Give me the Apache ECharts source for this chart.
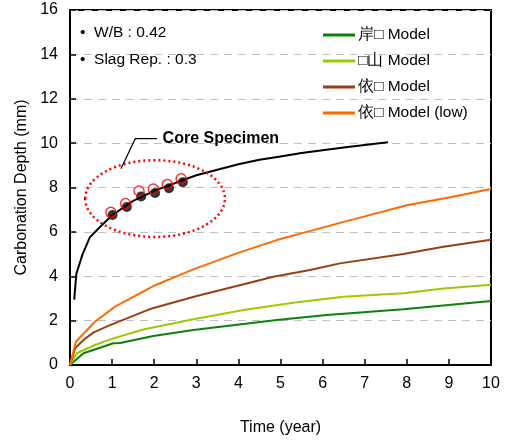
<!DOCTYPE html>
<html>
<head>
<meta charset="utf-8">
<script src="https://cdn.jsdelivr.net/npm/echarts@6/dist/echarts.min.js"></script>
<style>
  html, body { margin: 0; padding: 0; background: #fff; }
  #chart { width: 507px; height: 443px; }
</style>
</head>
<body>
<div id="chart"></div>
<script>
// values
var xTicks = [0, 1, 2, 3, 4, 5, 6, 7, 8, 9, 10];
var yTicks = [0, 2, 4, 6, 8, 10, 12, 14, 16];

var names = ['岸□ Model', '□山 Model', '依□ Model', '依□ Model (low)'];
var colors = ['#0a820a', '#99cc00', '#993d14', '#ff6a00'];

var greenModel = [[0, 0], [0.32, 0.53], [1.03, 0.98], [1.19, 0.99], [1.98, 1.31], [2.93, 1.58], [4.91, 2.03], [6.1, 2.25], [7.92, 2.51], [10, 2.88]];
var limeModel = [[0, 0], [0.16, 0.53], [0.59, 0.9], [1.03, 1.2], [1.74, 1.6], [2.93, 2.06], [4.12, 2.48], [5.3, 2.81], [6.49, 3.08], [7.92, 3.23], [8.87, 3.45], [10, 3.62]];
var brownModel = [[0, 0], [0.12, 0.75], [0.32, 1.13], [0.55, 1.46], [0.95, 1.8], [1.9, 2.52], [3.01, 3.11], [3.96, 3.56], [4.83, 3.98], [5.7, 4.28], [6.41, 4.58], [7.92, 5.0], [8.87, 5.33], [10, 5.65]];
var orangeModel = [[0, 0], [0.14, 1.05], [0.59, 1.95], [1.07, 2.63], [1.98, 3.56], [2.93, 4.31], [3.96, 5.03], [4.91, 5.63], [5.78, 6.08], [6.5, 6.45], [7.0, 6.7], [8.0, 7.2], [9.0, 7.55], [10, 7.93]];

var fitCurve = [[0.1, 2.95], [0.15, 4.1], [0.3, 5.0], [0.47, 5.75], [0.7, 6.2], [1.0, 6.75], [1.5, 7.4], [2.0, 7.85], [2.5, 8.2], [3.0, 8.55], [3.5, 8.8], [4.0, 9.05], [4.5, 9.25], [5.0, 9.4], [5.5, 9.55], [6.0, 9.68], [6.5, 9.8], [7.0, 9.92], [7.55, 10.04]];
var coreRed = [[0.97, 6.88], [1.32, 7.28], [1.64, 7.84], [1.98, 7.93], [2.31, 8.14], [2.64, 8.39]];
var coreBlack = [[1.01, 6.76], [1.35, 7.12], [1.69, 7.6], [2.02, 7.75], [2.35, 7.97], [2.68, 8.24]];

// annotation geometry in data units
var ellipseCenter = [2.02, 7.5];
var ellipseRadius = [1.66, 1.73];
var leader = [[2.07, 10.2], [1.55, 10.2], [1.21, 8.85]];
var labelAt = [2.2, 10.2];

var font = '"Liberation Sans", Arial, sans-serif';
var chart = echarts.init(document.getElementById('chart'));

function lineSeries(name, data, color) {
    return {
        name: name,
        type: 'line',
        data: data,
        symbol: 'none',
        smooth: false,
        lineStyle: { color: color, width: 2 },
        itemStyle: { color: color },
        z: 2
    };
}

var option = {
    animation: false,
    textStyle: { fontFamily: font },
    grid: {
        left: 70, right: 16, top: 10, bottom: 78,
        show: true, borderColor: '#000', borderWidth: 2
    },
    xAxis: {
        type: 'value', min: 0, max: 10, interval: 1,
        name: 'Time (year)', nameLocation: 'middle', nameGap: 55,
        nameTextStyle: { fontSize: 16, color: '#000', fontFamily: font },
        axisLine: { lineStyle: { color: '#000', width: 2 } },
        axisTick: { inside: true, length: 6, lineStyle: { color: '#000', width: 1.5 } },
        axisLabel: { fontSize: 16, color: '#000', margin: 11, fontFamily: font },
        splitLine: { show: false }
    },
    yAxis: {
        type: 'value', min: 0, max: 16, interval: 2,
        name: 'Carbonation Depth (mm)', nameLocation: 'middle', nameGap: 39,
        nameTextStyle: { fontSize: 16, color: '#000', fontFamily: font },
        axisLine: { lineStyle: { color: '#000', width: 2 } },
        axisTick: { inside: true, length: 6, lineStyle: { color: '#000', width: 1.5 } },
        axisLabel: { fontSize: 16, color: '#000', margin: 12, fontFamily: font },
        splitLine: { show: true, lineStyle: { color: '#c0c0c0', type: [8, 6], width: 1.2 } }
    },
    legend: {
        data: names,
        orient: 'vertical',
        left: 318, top: 22,
        itemWidth: 32, itemHeight: 3, itemGap: 10,
        icon: 'rect',
        textStyle: { fontSize: 15.5, color: '#000', fontFamily: font, padding: [0, 0, 0, -2] }
    },
    series: [
        lineSeries(names[0], greenModel, colors[0]),
        lineSeries(names[1], limeModel, colors[1]),
        lineSeries(names[2], brownModel, colors[2]),
        lineSeries(names[3], orangeModel, colors[3]),
        lineSeries('fit', fitCurve, '#000'),
        {
            name: 'core black', type: 'scatter', data: coreBlack,
            symbolSize: 10, itemStyle: { color: '#000' }, z: 3
        },
        {
            name: 'core red', type: 'scatter', data: coreRed,
            symbolSize: 10,
            itemStyle: { color: 'rgba(255,255,255,0)', borderColor: '#ff0000', borderWidth: 1.5 },
            z: 4
        }
    ]
};
option && chart.setOption(option);

// annotations placed through the chart's own scales
var c = chart.convertToPixel({ gridIndex: 0 }, ellipseCenter);
var edge = chart.convertToPixel({ gridIndex: 0 }, [ellipseCenter[0] + ellipseRadius[0], ellipseCenter[1] + ellipseRadius[1]]);
var pts = leader.map(function (p) { return chart.convertToPixel({ gridIndex: 0 }, p); });
var lab = chart.convertToPixel({ gridIndex: 0 }, labelAt);

chart.setOption({
    graphic: [
        {
            type: 'ellipse', z: 10,
            shape: { cx: c[0], cy: c[1], rx: edge[0] - c[0], ry: c[1] - edge[1] },
            style: { fill: null, stroke: '#ff0000', lineWidth: 2.5, lineDash: [2, 3] }
        },
        {
            type: 'polyline', z: 10,
            shape: { points: pts },
            style: { fill: null, stroke: '#000', lineWidth: 1.2 }
        },
        {
            type: 'text', z: 10, x: lab[0], y: lab[1],
            style: { text: 'Core Specimen', font: 'bold 16px ' + font, fill: '#000', verticalAlign: 'middle' }
        },
        {
            type: 'text', z: 10, x: 80, y: 33,
            style: { text: '•  W/B : 0.42', font: '15.5px ' + font, fill: '#000', verticalAlign: 'middle' }
        },
        {
            type: 'text', z: 10, x: 80, y: 60,
            style: { text: '•  Slag Rep. : 0.3', font: '15.5px ' + font, fill: '#000', verticalAlign: 'middle' }
        }
    ]
});
</script>
</body>
</html>
